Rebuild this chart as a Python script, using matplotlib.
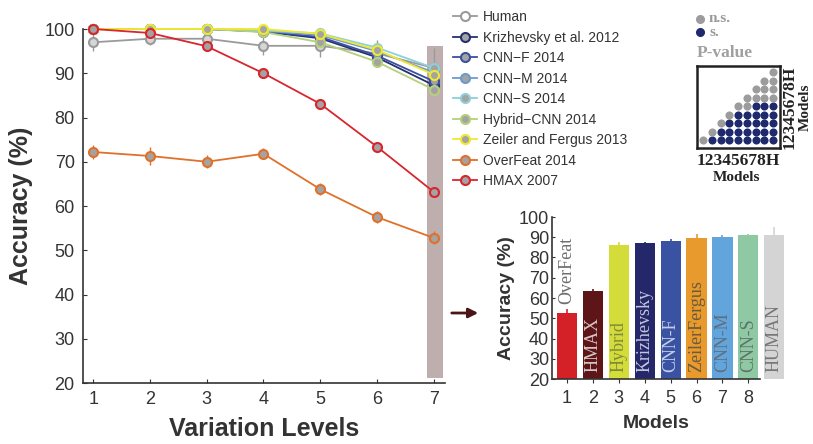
import numpy as np
import matplotlib.pyplot as plt
from matplotlib.lines import Line2D
from matplotlib.patches import Rectangle

plt.rcParams["font.family"] = ["Liberation Sans", "DejaVu Sans"]

# ── Données : courbes par niveau de variation ────────────────────────────────
levels = [1, 2, 3, 4, 5, 6, 7]

human      = [97.0, 97.8, 97.8, 96.2, 96.2, 94.5, 91.2]
human_err  = [2.0, 1.5, 1.2, 2.0, 2.5, 3.0, 4.5]
krizhevsky = [100, 100, 100, 99.4, 97.9, 93.6, 87.3]
cnn_f      = [100, 100, 100, 99.5, 98.2, 94.0, 88.2]
cnn_m      = [100, 100, 100, 99.6, 98.6, 95.0, 90.2]
cnn_s      = [100, 100, 100, 99.7, 99.0, 95.8, 91.2]
hybrid     = [100, 100, 100, 99.3, 97.0, 92.6, 86.3]
zeiler     = [100, 100, 100, 100, 98.9, 95.3, 89.7]
overfeat   = [72.2, 71.3, 70.0, 71.8, 63.8, 57.5, 52.8]
overfeat_err = [1.5, 2.0, 1.5, 1.2, 1.3, 1.3, 1.5]
hmax       = [100, 99.1, 96.1, 90.0, 83.1, 73.4, 63.2]
hmax_err   = [0.5, 0.8, 0.8, 0.8, 0.8, 1.0, 1.0]
small_err  = [0.3, 0.3, 0.3, 0.4, 0.5, 0.8, 0.8]

series_names = ["Human", "Krizhevsky et al. 2012", "CNN\u2212F 2014", "CNN\u2212M 2014",
                "CNN\u2212S 2014", "Hybrid\u2212CNN 2014", "Zeiler and Fergus 2013",
                "OverFeat 2014", "HMAX 2007"]
series_vals = [human, krizhevsky, cnn_f, cnn_m, cnn_s, hybrid, zeiler, overfeat, hmax]
series_errs = [human_err, small_err, small_err, small_err, small_err, small_err,
               small_err, overfeat_err, hmax_err]
series_colors = ["#9a9a9a", "#27306e", "#3a50a0", "#6f9ad0", "#8fd0d8",
                 "#b5d07a", "#f0e830", "#e0702a", "#d8252e"]

# ── Données : barres au niveau 7 ─────────────────────────────────────────────
bar_models = ["OverFeat", "HMAX", "Hybrid", "Krizhevsky", "CNN-F",
              "ZeilerFergus", "CNN-M", "CNN-S", "HUMAN"]
bar_acc = [52.8, 63.4, 86.3, 87.4, 88.2, 89.7, 90.2, 91.2, 91.2]
bar_err = [1.6, 1.0, 1.6, 0.5, 1.0, 2.0, 1.0, 0.5, 3.8]
bar_colors = ["#d42027", "#5e1518", "#d4dc3a", "#24286a", "#3a52a2",
              "#e89a2c", "#62a5dc", "#8fc9a4", "#d4d4d4"]
bar_text_colors = ["#6e6e6e", "#d8c6c6", "#7f8a3a", "#c4c6dc", "#c6cde8",
                   "#6b5a3e", "#5f6f80", "#5f7568", "#777777"]

# ── Données : matrice de p-values (ligne = modèle 1..H, colonne = 1..H) ──────
pval_rows = [
    "nssssssss",
    ".nsssssss",
    "..nssssss",
    "...nsssss",
    "....nnsss",
    ".....nnnn",
    "......nnn",
    ".......nn",
    "........n",
]
pval_ticks = "12345678H"

GRAY_DOT = "#9c9c9c"
NAVY_DOT = "#1f2a6e"
TXT = "#333333"

fig = plt.figure(figsize=(8.13, 4.44), dpi=100)

# ── Courbes ──────────────────────────────────────────────────────────────────
ax = fig.add_axes([83 / 813, 1 - 383 / 444, (445 - 83) / 813, (383 - 29) / 444])
ax.add_patch(Rectangle((6.89, 21.2), 0.28, 75.0, color="#bfaeae", zorder=0, lw=0))

handles = []
for name, vals, errs, col in zip(series_names, series_vals, series_errs, series_colors):
    face = "#d6d6d6" if name == "Human" else "#a3a3a3"
    ax.errorbar(levels, vals, yerr=errs, color=col, lw=1.3, elinewidth=1.0,
                capsize=0, marker="o", markersize=6.5, mfc=face, mec=col, mew=1.5,
                clip_on=False, zorder=3)
    leg_face = "white" if name == "Human" else "#a3a3a3"
    handles.append(Line2D([], [], color=col, lw=1.3, marker="o", markersize=6.5,
                          mfc=leg_face, mec=col, mew=1.5))

ax.set_xlim(0.82, 7.2)
ax.set_ylim(20, 100)
ax.set_xticks(levels)
ax.set_yticks(range(20, 101, 10))
ax.tick_params(direction="in", length=3, labelsize=13, colors=TXT, pad=6)
for s in ["top", "right"]:
    ax.spines[s].set_visible(False)
for s in ["left", "bottom"]:
    ax.spines[s].set_color(TXT)
    ax.spines[s].set_linewidth(1.2)
ax.set_xlabel("Variation Levels", fontsize=18, fontweight="bold", color=TXT, labelpad=6)
ax.set_ylabel("Accuracy (%)", fontsize=18, fontweight="bold", color=TXT, labelpad=8)

fig.legend(handles, series_names, loc="upper left",
           bbox_to_anchor=(453 / 813, 1 - 10 / 444), frameon=False, borderpad=0,
           borderaxespad=0, fontsize=10, labelspacing=0.47, handlelength=1.75,
           handletextpad=0.4, labelcolor=TXT)

# ── Flèche ───────────────────────────────────────────────────────────────────
ax.annotate("", xy=(481 / 813, 1 - 313 / 444), xytext=(449 / 813, 1 - 313 / 444),
            xycoords="figure fraction", textcoords="figure fraction",
            arrowprops=dict(arrowstyle="-|>", color="#4a1515", lw=2, mutation_scale=14))

# ── Barres ───────────────────────────────────────────────────────────────────
axb = fig.add_axes([552 / 813, 1 - 379 / 444, (760 - 552) / 813, (379 - 217) / 444])
xb = np.arange(1, len(bar_models) + 1)
for i in range(len(bar_models)):
    axb.bar(xb[i], bar_acc[i] - 20, bottom=20, width=0.78, color=bar_colors[i],
            clip_on=False, zorder=2)
    axb.errorbar(xb[i], bar_acc[i], yerr=bar_err[i], color=bar_colors[i],
                 elinewidth=1.2, capsize=0, clip_on=False, zorder=1)
    ytxt = bar_acc[i] + 4 if bar_models[i] == "OverFeat" else 23.5
    axb.text(xb[i], ytxt, bar_models[i], rotation=90, ha="center", va="bottom",
             fontsize=13, color=bar_text_colors[i], family="Liberation Serif",
             zorder=4)

axb.set_xlim(0.42, 8.45)
axb.set_ylim(20, 100)
axb.set_xticks(xb[:8])
axb.set_yticks(range(20, 101, 10))
axb.tick_params(axis="x", direction="out", length=3, labelsize=13, colors=TXT, pad=5)
axb.tick_params(axis="y", direction="in", length=2, labelsize=13, colors=TXT, pad=2)
for s in ["top", "right"]:
    axb.spines[s].set_visible(False)
for s in ["left", "bottom"]:
    axb.spines[s].set_color(TXT)
    axb.spines[s].set_linewidth(1.2)
axb.set_xlabel("Models", fontsize=14, fontweight="bold", color=TXT, labelpad=6)
axb.set_ylabel("Accuracy (%)", fontsize=14, fontweight="bold", color=TXT, labelpad=3)

# ── Matrice p-value ──────────────────────────────────────────────────────────
axp = fig.add_axes([697 / 813, 1 - 148 / 444, 83 / 813, 82 / 444])
for r, row in enumerate(pval_rows):
    for c, ch in enumerate(row):
        if ch == ".":
            continue
        axp.scatter(c + 1, r + 1, s=34, color=GRAY_DOT if ch == "n" else NAVY_DOT,
                    lw=0)
axp.set_xlim(0.31, 9.8)
axp.set_ylim(0.1, 9.7)
axp.set_xticks([])
axp.set_yticks([])
for s in axp.spines.values():
    s.set_linewidth(1.8)
    s.set_color("#222222")

serif = ["Liberation Serif", "DejaVu Serif"]
fig.text(738 / 813, 1 - 161 / 444, pval_ticks, ha="center", va="center",
         fontsize=12.5, fontweight="bold", family=serif, color="#222222")
fig.text(737 / 813, 1 - 177 / 444, "Models", ha="center", va="center",
         fontsize=11, fontweight="bold", family=serif, color="#222222")
fig.text(790 / 813, 1 - 107 / 444, pval_ticks, ha="center", va="center", rotation=90,
         fontsize=12.5, fontweight="bold", family=serif, color="#222222")
fig.text(805 / 813, 1 - 107 / 444, "Models", ha="center", va="center", rotation=90,
         fontsize=11, fontweight="bold", family=serif, color="#222222")
fig.text(697 / 813, 1 - 53 / 444, "P-value", ha="left", va="center",
         fontsize=12.5, fontweight="bold", family=serif, color="#a0a0a0")
fig.text(709 / 813, 1 - 18 / 444, "n.s.", ha="left", va="center",
         fontsize=11, fontweight="bold", family=serif, color="#9a9a9a")
fig.text(709 / 813, 1 - 32 / 444, "s.", ha="left", va="center",
         fontsize=11, fontweight="bold", family=serif, color="#9a9a9a")
fig.add_artist(Line2D([700 / 813], [1 - 19 / 444], marker="o", markersize=5.5,
                      color=GRAY_DOT, lw=0))
fig.add_artist(Line2D([700 / 813], [1 - 32 / 444], marker="o", markersize=5.5,
                      color=NAVY_DOT, lw=0))

fig.savefig("out.png", dpi=100)
